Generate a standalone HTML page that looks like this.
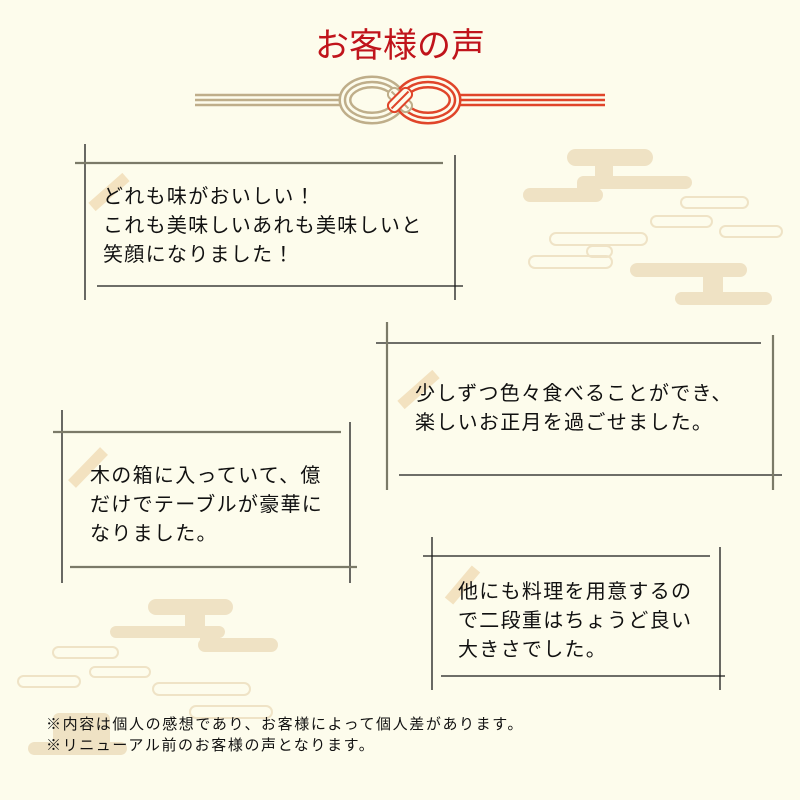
<!DOCTYPE html>
<html><head><meta charset="utf-8"><style>
html,body{margin:0;padding:0}
body{width:800px;height:800px;background:#fdfcec;position:relative;overflow:hidden;font-family:"Liberation Sans","Noto Sans CJK JP",sans-serif}
svg{position:absolute;left:0;top:0}
.t{position:absolute;font-size:20px;letter-spacing:1.3px;line-height:29px;color:#111;white-space:nowrap}
.f{position:absolute;left:46px;font-size:15px;letter-spacing:1.6px;color:#111;line-height:21px;white-space:nowrap}
h1{position:absolute;left:0;width:800px;top:24px;margin:0;text-align:center;font-weight:normal;font-size:34px;color:#c0141b;line-height:44px}
</style></head><body>
<svg width="800" height="800" viewBox="0 0 800 800">
<g fill="#efe2c4">
<rect x="567" y="149" width="86" height="17" rx="8.5"/><rect x="595" y="160" width="18" height="22"/>
<rect x="577" y="176" width="115" height="13" rx="6.5"/><rect x="523" y="188" width="80" height="14" rx="7"/><rect x="577" y="182" width="20" height="12"/>
<rect x="630" y="263" width="117" height="14" rx="7"/><rect x="703" y="270" width="20" height="28"/><rect x="675" y="292" width="97" height="13" rx="6.5"/>
<rect x="148" y="599" width="85" height="16" rx="8"/><rect x="185" y="610" width="20" height="20"/>
<rect x="110" y="626" width="115" height="12" rx="6"/><rect x="198" y="638" width="80" height="14" rx="7"/><rect x="200" y="632" width="20" height="10"/>
<rect x="53" y="713" width="57" height="35" rx="6"/><rect x="28" y="742" width="99" height="13" rx="6.5"/>
</g>
<g fill="none" stroke="#efe3c6" stroke-width="2">
<rect x="681" y="197" width="67" height="11" rx="5.5"/><rect x="651" y="216" width="61" height="11" rx="5.5"/><rect x="720" y="226" width="62" height="11" rx="5.5"/>
<rect x="550" y="233" width="97" height="12" rx="6"/><rect x="587" y="246" width="25" height="11" rx="5.5"/><rect x="529" y="256" width="83" height="12" rx="6"/>
<rect x="53" y="647" width="65" height="11" rx="5.5"/><rect x="90" y="667" width="60" height="10" rx="5"/><rect x="18" y="676" width="62" height="11" rx="5.5"/>
<rect x="153" y="683" width="97" height="12" rx="6"/><rect x="190" y="706" width="82" height="12" rx="6"/>
</g>
<g stroke-width="2.5">
<line x1="195" y1="95" x2="350" y2="95" stroke="#bfae8a"/><line x1="195" y1="100" x2="350" y2="100" stroke="#bfae8a"/><line x1="195" y1="105" x2="350" y2="105" stroke="#bfae8a"/>
<line x1="450" y1="95" x2="605" y2="95" stroke="#e0452a"/><line x1="450" y1="100" x2="605" y2="100" stroke="#e0452a"/><line x1="450" y1="105" x2="605" y2="105" stroke="#e0452a"/>
</g>
<g fill="none">
<ellipse cx="372" cy="100" rx="27" ry="18" stroke="#bfae8a" stroke-width="13"/>
<ellipse cx="372" cy="100" rx="27" ry="18" stroke="#fdfcec" stroke-width="8"/>
<ellipse cx="372" cy="100" rx="27" ry="18" stroke="#bfae8a" stroke-width="2.5"/>
<ellipse cx="428" cy="100" rx="27" ry="18" stroke="#e0452a" stroke-width="13"/>
<ellipse cx="428" cy="100" rx="27" ry="18" stroke="#fdfcec" stroke-width="8"/>
<ellipse cx="428" cy="100" rx="27" ry="18" stroke="#e0452a" stroke-width="2.5"/>
</g>
<g transform="translate(400,100) rotate(45)"><rect x="-14" y="-6" width="28" height="12" rx="5" fill="#fdfcec" stroke="#bfae8a" stroke-width="2"/><line x1="-12" y1="0" x2="12" y2="0" stroke="#bfae8a" stroke-width="2"/></g>
<g transform="translate(400,100) rotate(-45)"><rect x="-14" y="-6" width="28" height="12" rx="5" fill="#fdfcec" stroke="#e0452a" stroke-width="2"/><line x1="-12" y1="0" x2="12" y2="0" stroke="#e0452a" stroke-width="2"/></g>
<g stroke="#f3e2c0" stroke-width="11">
<line x1="92" y1="207" x2="126" y2="177"/><line x1="401" y1="405" x2="436" y2="374"/>
<line x1="72" y1="484" x2="104" y2="451"/><line x1="449" y1="601" x2="476" y2="569"/>
</g>
<g stroke="#1a1a1a" stroke-width="1.3">
<line x1="85" y1="144" x2="85" y2="300"/><line x1="455" y1="155" x2="455" y2="300"/><line x1="97" y1="286" x2="463" y2="286"/>
<line x1="376" y1="343" x2="761" y2="343"/><line x1="399" y1="475" x2="782" y2="475"/>
<line x1="62" y1="410" x2="62" y2="583"/><line x1="350" y1="422" x2="350" y2="583"/>
<line x1="432" y1="537" x2="432" y2="690"/><line x1="720" y1="547" x2="720" y2="690"/><line x1="423" y1="556" x2="710" y2="556"/><line x1="441" y1="676" x2="725" y2="676"/>
</g>
<g stroke="#7b7a68" stroke-width="2.2">
<line x1="75" y1="163" x2="443" y2="163"/>
<line x1="387" y1="322" x2="387" y2="490"/><line x1="773" y1="335" x2="773" y2="490"/>
<line x1="53" y1="432" x2="341" y2="432"/><line x1="70" y1="567" x2="357" y2="567"/>
</g>
</svg>
<h1>お客様の声</h1>
<div class="t" style="left:103px;top:183px">どれも味がおいしい！<br>これも美味しいあれも美味しいと<br>笑顔になりました！</div>
<div class="t" style="left:415px;top:380px">少しずつ色々食べることができ、<br>楽しいお正月を過ごせました。</div>
<div class="t" style="left:90px;top:462px">木の箱に入っていて、億<br>だけでテーブルが豪華に<br>なりました。</div>
<div class="t" style="left:458px;top:578px">他にも料理を用意するの<br>で二段重はちょうど良い<br>大きさでした。</div>
<div class="f" style="top:714px">※内容は個人の感想であり、お客様によって個人差があります。<br>※リニューアル前のお客様の声となります。</div>
</body></html>
